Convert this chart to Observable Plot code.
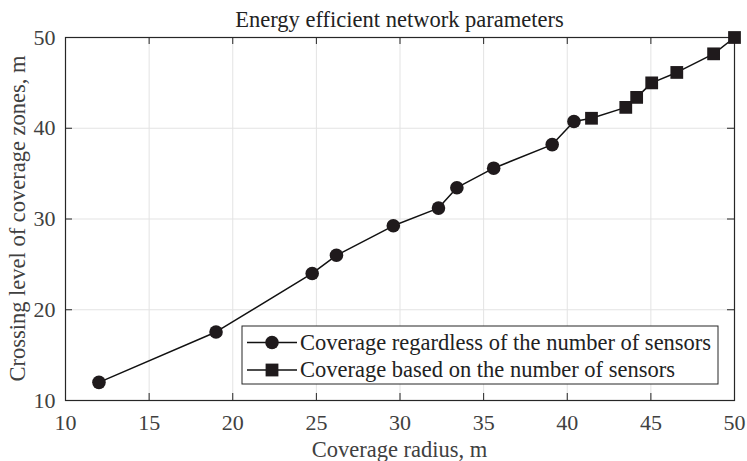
<!DOCTYPE html>
<html>
<head>
<meta charset="utf-8">
<script src="https://cdn.jsdelivr.net/npm/d3@7"></script>
<script src="https://cdn.jsdelivr.net/npm/@observablehq/plot@0.6"></script>
<style>
  html, body { margin: 0; padding: 0; background: #fff; }
  #chart { width: 747px; height: 461px; }
  svg { font-family: "Liberation Serif", "Times New Roman", serif; }
</style>
</head>
<body>
<div id="chart"></div>
<script>
const titleText = "Energy efficient network parameters";
const xLabel = "Coverage radius, m";
const yLabel = "Crossing level of coverage zones, m";
const seriesNames = ["Coverage regardless of the number of sensors", "Coverage based on the number of sensors"];

const circleX = [12, 19, 24.75, 26.2, 29.6, 32.3, 33.4, 35.6, 39.1, 40.4];
const circleY = [12, 17.55, 24, 26, 29.25, 31.2, 33.45, 35.6, 38.2, 40.75];
const squareX = [41.45, 43.5, 44.15, 45.05, 46.55, 48.75, 50];
const squareY = [41.1, 42.3, 43.4, 45, 46.15, 48.2, 50];

const xTicks = [10, 15, 20, 25, 30, 35, 40, 45, 50];
const yTicks = [10, 20, 30, 40, 50];

const circles = circleX.map((x, i) => ({x, y: circleY[i]}));
const squares = squareX.map((x, i) => ({x, y: squareY[i]}));
const linePts = circles.concat(squares);

const W = 747, H = 461;
const mL = 65, mR = 13, mT = 37, mB = 61;
const axisColor = "#262626";
const textColor = "#404040";
const markColor = "#1f1a1c";
const FS = 22;
const LFS = 22.5;

const plot = Plot.plot({
  width: W, height: H,
  marginLeft: mL, marginRight: mR, marginTop: mT, marginBottom: mB,
  style: {fontFamily: "Liberation Serif, serif", fontSize: FS + "px", color: textColor, background: "#fff"},
  x: {domain: [10, 50], ticks: xTicks, label: null},
  y: {domain: [10, 50], ticks: yTicks, label: null},
  marks: [
    Plot.gridX(xTicks, {stroke: "#e3e3e3", strokeOpacity: 1, strokeWidth: 1}),
    Plot.gridY(yTicks, {stroke: "#e3e3e3", strokeOpacity: 1, strokeWidth: 1}),
    Plot.axisX(xTicks, {anchor: "bottom", tickSize: 0, tickPadding: 14, fontSize: FS, fill: textColor}),
    Plot.axisY(yTicks, {anchor: "left", tickSize: 0, tickPadding: 10, fontSize: FS, fill: textColor}),
    // inward ticks on all sides
    Plot.tickX(xTicks, {x: d => d, insetTop: H - mT - mB - 7, stroke: axisColor}),
    Plot.tickX(xTicks, {x: d => d, insetBottom: H - mT - mB - 7, stroke: axisColor}),
    Plot.tickY(yTicks, {y: d => d, insetRight: W - mL - mR - 7, stroke: axisColor}),
    Plot.tickY(yTicks, {y: d => d, insetLeft: W - mL - mR - 7, stroke: axisColor}),
    Plot.frame({stroke: axisColor, strokeWidth: 1.2}),
    Plot.line(linePts, {x: "x", y: "y", stroke: "#111", strokeWidth: 1.5}),
    Plot.dot(circles, {x: "x", y: "y", r: 6.8, fill: markColor, stroke: "none"}),
    Plot.dot(squares, {x: "x", y: "y", r: 7.2, symbol: "square", fill: markColor, stroke: "none"})
  ]
});

const svg = d3.select(plot);
function txt(parent, x, y, s, anchor, color) {
  return parent.append("text").attr("x", x).attr("y", y)
    .style("text-anchor", anchor).style("font-size", LFS + "px").style("fill", color)
    .style("font-family", "Liberation Serif, serif").text(s);
}
// title
txt(svg, (mL + W - mR) / 2, 27, titleText, "middle", "#222");
// axis labels
txt(svg, (mL + W - mR) / 2, 457, xLabel, "middle", textColor);
txt(svg, 0, 0, yLabel, "middle", textColor)
  .attr("transform", `translate(25, ${(mT + H - mB) / 2}) rotate(-90)`);

// legend
const lg = svg.append("g");
const lx = 242, ly = 326, lw = 476, lh = 58;
lg.append("rect").attr("x", lx).attr("y", ly).attr("width", lw).attr("height", lh)
  .attr("fill", "#fff").attr("stroke", "#262626").attr("stroke-width", 1);
seriesNames.forEach((name, i) => {
  const cy = ly + 16.5 + i * 27.5;
  lg.append("line").attr("x1", lx + 5).attr("x2", lx + 55).attr("y1", cy).attr("y2", cy)
    .attr("stroke", "#111").attr("stroke-width", 1.5);
  if (i === 0) {
    lg.append("circle").attr("cx", lx + 30).attr("cy", cy).attr("r", 6.8).attr("fill", markColor);
  } else {
    lg.append("rect").attr("x", lx + 30 - 6.4).attr("y", cy - 6.4).attr("width", 12.8).attr("height", 12.8).attr("fill", markColor);
  }
  txt(lg, lx + 58, cy + 7, name, "start", "#222");
});

document.getElementById("chart").appendChild(plot);
</script>
</body>
</html>
